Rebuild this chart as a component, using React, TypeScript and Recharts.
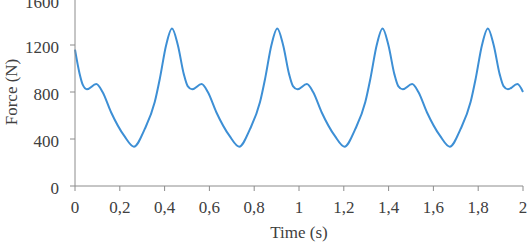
import React from 'react';
import { LineChart, Line, XAxis, YAxis, Label } from 'recharts';

// time (s) and force (N)
const times = [
  0, 0.02, 0.035, 0.053, 0.095, 0.123, 0.161, 0.22, 0.263,
  0.311, 0.356, 0.379, 0.407, 0.433, 0.459, 0.486, 0.503, 0.523, 0.565, 0.593, 0.631, 0.69, 0.733,
  0.781, 0.826, 0.849, 0.877, 0.903, 0.929, 0.956, 0.973, 0.993, 1.035, 1.063, 1.101, 1.16, 1.203,
  1.251, 1.296, 1.319, 1.347, 1.373, 1.399, 1.426, 1.443, 1.463, 1.505, 1.533, 1.571, 1.63, 1.673,
  1.721, 1.766, 1.789, 1.817, 1.843, 1.869, 1.896, 1.913, 1.933, 1.975, 2.0,
];
const forces = [
  1160, 960, 860, 823, 868, 800, 628, 426, 335,
  484, 714, 916, 1200, 1340, 1200, 950, 850, 823, 868, 800, 628, 426, 335,
  484, 714, 916, 1200, 1340, 1200, 950, 850, 823, 868, 800, 628, 426, 335,
  484, 714, 916, 1200, 1340, 1200, 950, 850, 823, 868, 800, 628, 426, 335,
  484, 714, 916, 1200, 1340, 1200, 950, 850, 823, 868, 800,
];
const xTicks = [0, 0.2, 0.4, 0.6, 0.8, 1, 1.2, 1.4, 1.6, 1.8, 2];
const yTicks = [0, 400, 800, 1200, 1600];

const data = times.map((t, i) => ({ t, force: forces[i] }));

const FONT = "'Liberation Serif', 'Times New Roman', 'DejaVu Serif', serif";
const axisColor = '#8c8c8c';
const textColor = '#404040';

const fmt = (v: number) => String(v).replace('.', ',');

export default function App() {
  return (
    <div style={{ position: 'absolute', left: 0, top: 0, width: 528, height: 246, overflow: 'hidden', background: '#fff' }}>
      <style>{`.recharts-wrapper text, .recharts-wrapper tspan { font-family: ${FONT} !important; }`}</style>
      {/* chart drawn 10px taller and shifted up so the 1600 label is cut like the reference */}
      <div style={{ position: 'relative', top: -10 }}>
        <LineChart width={528} height={256} data={data} margin={{ top: 8, right: 5, bottom: 0, left: 0 }}>
          <XAxis
            dataKey="t"
            type="number"
            domain={[0, 2]}
            ticks={xTicks}
            tickFormatter={fmt}
            height={60}
            stroke={axisColor}
            tickSize={5}
            tickMargin={10}
            tick={{ fill: textColor, fontSize: 17 }}
          >
            <Label value="Time (s)" position="insideBottom" offset={8} fill={textColor} fontSize={17} />
          </XAxis>
          <YAxis
            type="number"
            domain={[0, 1600]}
            ticks={yTicks}
            width={75}
            stroke={axisColor}
            tickSize={5}
            tickMargin={11}
            tick={{ fill: textColor, fontSize: 17, dy: 2 }}
          >
            <Label
              value="Force (N)"
              angle={-90}
              position="insideLeft"
              offset={11}
              fill={textColor}
              fontSize={17}
              style={{ textAnchor: 'middle' }}
            />
          </YAxis>
          <Line
            type="monotone"
            dataKey="force"
            stroke="#3d8fd5"
            strokeWidth={2}
            dot={false}
            isAnimationActive={false}
          />
        </LineChart>
      </div>
    </div>
  );
}
